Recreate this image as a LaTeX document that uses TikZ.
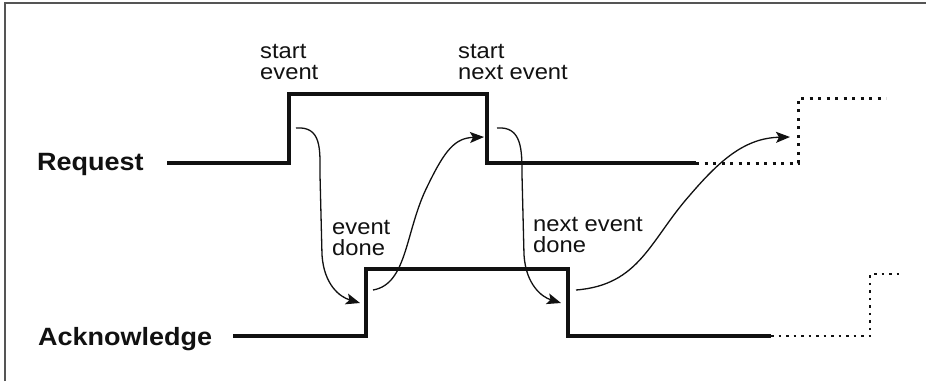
\documentclass[tikz,border=0pt]{standalone}
\usepackage{fontspec}
\setmainfont{Liberation Sans}[FakeStretch=1.08]
\usetikzlibrary{arrows.meta}
\definecolor{inkcol}{HTML}{111111}
\definecolor{framecol}{HTML}{555555}
\tikzset{
  wave/.style={line width=4pt, inkcol, line join=miter},
  reqext/.style={line width=3pt, inkcol, dash pattern=on 3pt off 5.5pt},
  ackext/.style={line width=2.4pt, inkcol, dash pattern=on 2.5pt off 5pt},
  cause/.style={-{Stealth[length=14pt,width=11pt,inset=3pt]}, line width=1.3pt, inkcol},
  siglab/.style={font=\fontsize{25}{30}\selectfont\bfseries, inner sep=0pt, text=inkcol},
  evlab/.style={font=\fontsize{22}{21}\selectfont, align=left, inner sep=0pt, text=inkcol},
}

\begin{document}
\begin{tikzpicture}[x=1pt, y=-1pt]
\useasboundingbox (0,0) rectangle (926,381);

% ── frame ───────────────────────────────────────────────────────
\draw[framecol, line width=1.5pt] (5,381) -- (5,3) -- (926,3);

% ── signal names ────────────────────────────────────────────────
\node[siglab, anchor=base west] (reqlab) at (37,170) {Request};
\node[siglab, anchor=base west] (acklab) at (38,345) {Acknowledge};

% ── request line ────────────────────────────────────────────────
\draw[wave] (167,163) -- (289,163) -- (289,94) -- (487,94) -- (487,163) -- (696,163);
\draw[reqext] (696,163) -- (798,163) -- (798,98) -- (886,98);

% ── acknowledge line ────────────────────────────────────────────
\draw[wave] (233,336) -- (366,336) -- (366,269) -- (568,269) -- (568,336) -- (771,336);
\draw[ackext] (771,336) -- (870,336) -- (870,274) -- (900,274);

% ── event labels ────────────────────────────────────────────────
\node[evlab, anchor=north west] (startev)   at (260,44)  {start\\event};
\node[evlab, anchor=north west] (startnext) at (458,44)  {start\\next event};
\node[evlab, anchor=north west] (evdone)    at (332,220) {event\\done};
\node[evlab, anchor=north west] (nextdone)  at (533,217) {next event\\done};

% ── handshake causality ─────────────────────────────────────────
\coordinate (requp)    at (296,128);
\coordinate (ackupin)  at (360,303);
\coordinate (ackup)    at (373,290);
\coordinate (reqdnin)  at (484,137);
\coordinate (reqdn)    at (497,128);
\coordinate (ackdnin)  at (561,303);
\coordinate (ackdn)    at (576,290);
\coordinate (reqnext)  at (790,137);

\draw[cause] (requp) .. controls (322,126) and (320,150) .. (320,175)
  -- (322,255) .. controls (324,285) and (340,297) .. (ackupin);
\draw[cause] (ackup) .. controls (408,284) and (405,230) .. (428,185)
  .. controls (445,150) and (455,138) .. (reqdnin);
\draw[cause] (reqdn) .. controls (522,126) and (522,150) .. (522,175)
  -- (524,255) .. controls (526,285) and (542,297) .. (ackdnin);
\draw[cause] (ackdn) .. controls (640,285) and (650,240) .. (690,195)
  .. controls (720,160) and (745,138) .. (reqnext);

\end{tikzpicture}
\end{document}
